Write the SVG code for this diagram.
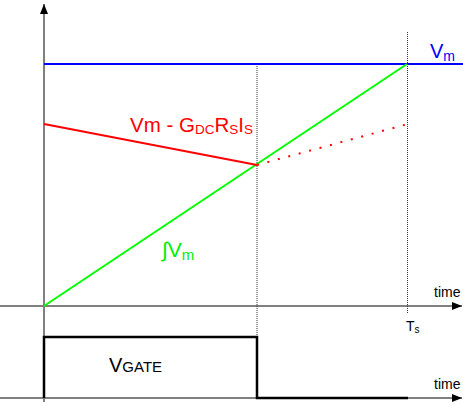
<svg xmlns="http://www.w3.org/2000/svg" width="463" height="402" viewBox="0 0 463 402">
<defs>
<marker id="arr" viewBox="0 0 10 8" refX="10" refY="4" markerWidth="10" markerHeight="8" markerUnits="userSpaceOnUse" orient="auto">
<path d="M0,0 L10,4 L0,8 Z" fill="#000"/>
</marker>
<style>
.axis{stroke:#808080;stroke-width:2;fill:none}
.guide{stroke:#333;stroke-width:1;stroke-dasharray:1 1;fill:none}
text{font-family:"Liberation Sans",Arial,sans-serif}
.small{font-size:14px;fill:#000}
</style>
</defs>
<rect width="463" height="402" fill="#fff"/>
<g id="axes">
<line class="axis" x1="44" y1="402" x2="44" y2="4" marker-end="url(#arr)"/>
<line class="axis" x1="0" y1="306" x2="462" y2="306" marker-end="url(#arr)"/>
<line class="axis" x1="0" y1="398" x2="462" y2="398" marker-end="url(#arr)"/>
</g>
<g id="connectors">
<line class="guide" x1="257" y1="64" x2="257" y2="336"/>
<line class="guide" x1="407.5" y1="32" x2="407.5" y2="314"/>
<line x1="44" y1="64" x2="463" y2="64" stroke="#0000ff" stroke-width="2"/>
<line x1="44" y1="306" x2="407" y2="64" stroke="#00ff00" stroke-width="2"/>
<line x1="44" y1="124" x2="257" y2="165" stroke="#ff0000" stroke-width="2"/>
<line x1="257" y1="165" x2="408" y2="124" stroke="#ff0000" stroke-width="2" stroke-dasharray="2 8.8"/>
<polyline points="44,398 44,337 257,337 257,398 408,398" fill="none" stroke="#000" stroke-width="2.5"/>
</g>
<g id="label-vm">
<text x="430" y="58" font-size="20" fill="#0000ff">V<tspan font-size="14" dy="3">m</tspan></text>
</g>
<g id="label-red">
<text x="130" y="132" font-size="20.5" fill="#ff0000">Vm - G<tspan font-size="13.5" dy="2">DC</tspan><tspan dy="-2">R</tspan><tspan font-size="13.5" dy="2">S</tspan><tspan dy="-2">I</tspan><tspan font-size="13.5" dy="2">S</tspan></text>
</g>
<g id="label-green">
<text x="162" y="257" font-size="21" fill="#00ee00">∫V<tspan font-size="15" dy="3">m</tspan></text>
</g>
<g id="label-gate">
<text x="109" y="372" font-size="20" fill="#000">V<tspan font-size="15">GATE</tspan></text>
</g>
<g id="label-time1"><text class="small" x="434" y="297">time</text></g>
<g id="label-time2"><text class="small" x="434" y="389">time</text></g>
<g id="label-ts"><text x="406" y="331" font-size="14">T<tspan font-size="10" dy="2">s</tspan></text></g>
</svg>
